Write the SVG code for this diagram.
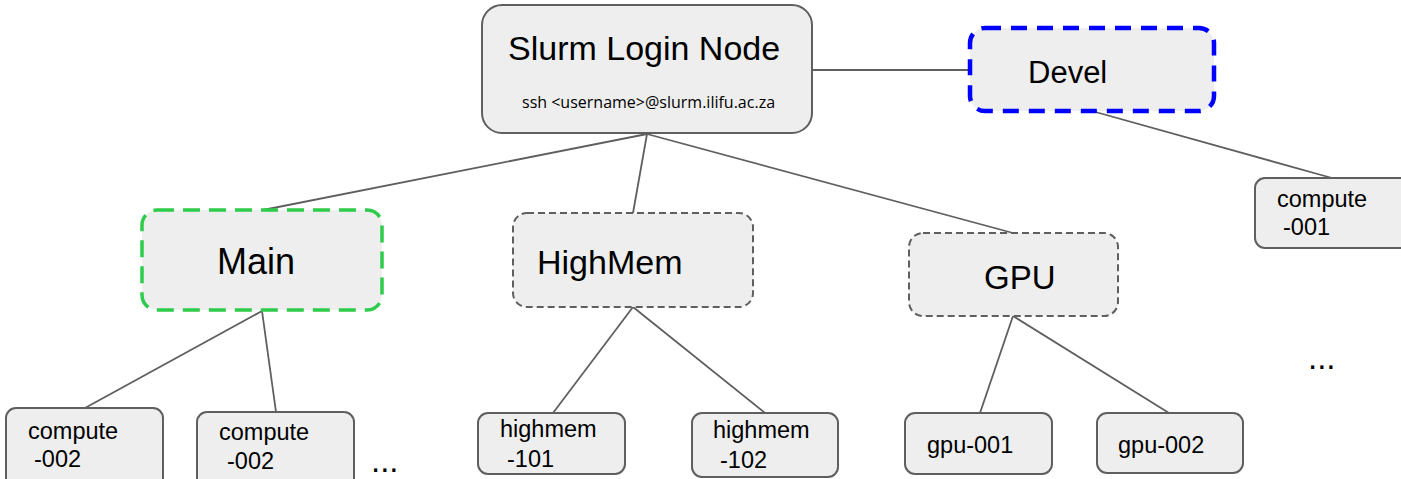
<svg xmlns="http://www.w3.org/2000/svg" width="1401" height="479" viewBox="0 0 1401 479">
<style>
.box{fill:#eeeeee;stroke:#5f5f5f;stroke-width:2}
.dgray{fill:#eeeeee;stroke:#5f5f5f;stroke-width:2;stroke-dasharray:7 4}
.dgreen{fill:#eeeeee;stroke:#2ecc4a;stroke-width:3.5;stroke-dasharray:17 9}
.dblue{fill:#eeeeee;stroke:#0000ff;stroke-width:4.5;stroke-dasharray:16 10}
.t{font-family:"Liberation Sans",Arial,sans-serif;fill:#000}
.big{font-size:34px}
.sm{font-size:23.5px}
.ssh{font-family:"Open Sans","Noto Sans",sans-serif;font-size:16px;fill:#000}
#connectors line{stroke:#5f5f5f;stroke-width:1.8}
</style>
<rect width="1401" height="479" fill="#ffffff"/>
<g id="connectors">
<line x1="812" y1="70" x2="970" y2="70"/>
<line x1="647" y1="134" x2="263" y2="210"/>
<line x1="647" y1="134" x2="633" y2="213"/>
<line x1="647" y1="134" x2="1013" y2="233"/>
<line x1="1092" y1="111" x2="1332" y2="178"/>
<line x1="262" y1="311" x2="85" y2="408"/>
<line x1="262" y1="311" x2="276" y2="412"/>
<line x1="633" y1="307" x2="553" y2="413"/>
<line x1="633" y1="307" x2="765" y2="413"/>
<line x1="1013" y1="316" x2="980" y2="413"/>
<line x1="1013" y1="316" x2="1169" y2="413"/>
</g>
<g id="login">
<rect class="box" x="482" y="5" width="330" height="128" rx="20"/>
<text class="t big" x="508" y="60">Slurm Login Node</text>
<text class="ssh" x="522" y="108">ssh &lt;username&gt;@slurm.ilifu.ac.za</text>
</g>
<g id="devel">
<rect class="dblue" x="970" y="28" width="244" height="83" rx="15"/>
<text class="t" font-size="31" x="1028" y="83">Devel</text>
</g>
<g id="compute-001">
<rect class="box" x="1255" y="178" width="160" height="70" rx="10"/>
<text class="t sm" x="1277" y="207">compute</text>
<text class="t sm" x="1283" y="235">-001</text>
</g>
<g id="dots-right">
<text class="t" font-size="33" x="1308" y="369">...</text>
</g>
<g id="main">
<rect class="dgreen" x="142" y="210" width="240" height="100" rx="15"/>
<text class="t" font-size="36" x="217" y="274">Main</text>
</g>
<g id="highmem">
<rect class="dgray" x="513" y="213" width="240" height="94" rx="14"/>
<text class="t big" x="537" y="274">HighMem</text>
</g>
<g id="gpu">
<rect class="dgray" x="909" y="233" width="209" height="83" rx="14"/>
<text class="t" font-size="33" x="984" y="289">GPU</text>
</g>
<g id="compute-002a">
<rect class="box" x="6" y="408" width="157" height="80" rx="10"/>
<text class="t sm" x="28" y="439">compute</text>
<text class="t sm" x="34" y="467">-002</text>
</g>
<g id="compute-002b">
<rect class="box" x="197" y="412" width="157" height="80" rx="10"/>
<text class="t sm" x="219" y="440">compute</text>
<text class="t sm" x="227" y="469">-002</text>
</g>
<g id="dots-main">
<text class="t" font-size="33" x="371" y="472">...</text>
</g>
<g id="highmem-101">
<rect class="box" x="478" y="413" width="147" height="61" rx="10"/>
<text class="t sm" x="500" y="437">highmem</text>
<text class="t sm" x="507" y="467">-101</text>
</g>
<g id="highmem-102">
<rect class="box" x="692" y="413" width="146" height="64" rx="10"/>
<text class="t sm" x="713" y="438">highmem</text>
<text class="t sm" x="720" y="468">-102</text>
</g>
<g id="gpu-001">
<rect class="box" x="905" y="413" width="147" height="61" rx="10"/>
<text class="t sm" x="927" y="453">gpu-001</text>
</g>
<g id="gpu-002">
<rect class="box" x="1097" y="413" width="146" height="60" rx="10"/>
<text class="t sm" x="1118" y="453">gpu-002</text>
</g>
</svg>
